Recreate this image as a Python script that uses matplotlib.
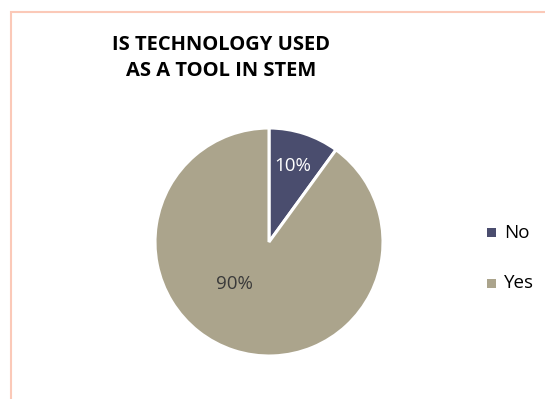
import matplotlib
matplotlib.use("Agg")
import matplotlib.pyplot as plt
from matplotlib.patches import Rectangle

categories = ["No", "Yes"]
values = [10, 90]
colors = ["#4A4D6E", "#ABA48C"]
pct_labels = ["10%", "90%"]

W, H = 545, 399
fig = plt.figure(figsize=(W / 100, H / 100), dpi=100)
fig.patch.set_facecolor("white")

# outer border (salmon)
fig.patches.append(Rectangle((11 / W, -0.05), 1.2, (H - 12.5) / H + 0.05, transform=fig.transFigure,
                             fill=False, edgecolor="#FBC9B8", linewidth=1.5))

R = 114
cx, cy = 269, 242
ax = fig.add_axes([(cx - R) / W, (H - cy - R) / H, 2 * R / W, 2 * R / H])
wedges, _ = ax.pie(values, colors=colors, startangle=90, counterclock=False,
                   wedgeprops=dict(edgecolor="white", linewidth=2.2), radius=1)
ax.set_xlim(-1, 1)
ax.set_ylim(-1, 1)
ax.set_aspect("equal")

ax.text(0.21, 0.67, pct_labels[0], color="white", fontsize=13.5, ha="center", va="center",
        family="Open Sans")
ax.text(-0.3, -0.37, pct_labels[1], color="#3a3a3a", fontsize=13.5, ha="center", va="center",
        family="Open Sans")

fig.text(221 / W, 1 - 45 / H, "IS TECHNOLOGY USED", fontsize=14.5, fontweight="bold",
         ha="center", va="center", family="Open Sans")
fig.text(221 / W, 1 - 71 / H, "AS A TOOL IN STEM", fontsize=14.5, fontweight="bold",
         ha="center", va="center", family="Open Sans")

# legend
for i, (cat, col) in enumerate(zip(categories, colors)):
    y = 232.5 + i * 50.5
    fig.patches.append(Rectangle((487 / W, 1 - (y + 4.5) / H), 9 / W, 9 / H,
                                 transform=fig.transFigure, facecolor=col, edgecolor="none"))
    fig.text(504 / W, 1 - y / H, cat, fontsize=13.5, ha="left", va="center", family="Open Sans")

fig.savefig("out.png", dpi=100)
